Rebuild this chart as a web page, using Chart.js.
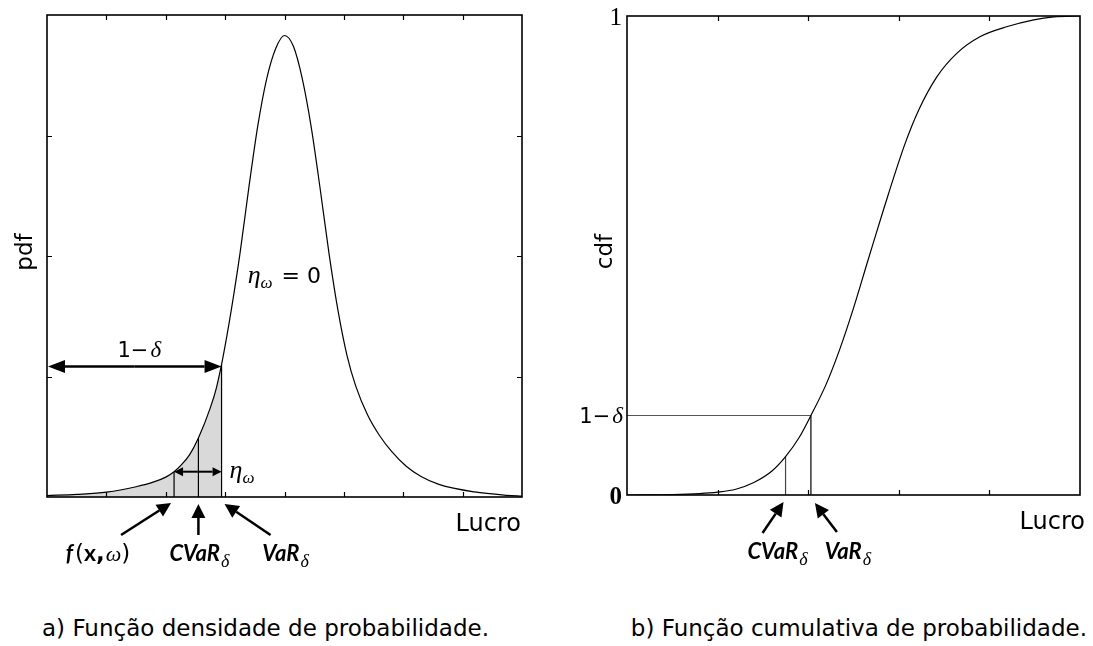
<!DOCTYPE html>
<html>
<head>
<meta charset="utf-8">
<script src="https://cdn.jsdelivr.net/npm/chart.js@4.4.1/dist/chart.umd.min.js"></script>
<style>
    body { margin: 0; background: #fff; width: 1093px; height: 646px; position: relative; overflow: hidden; }
    #graficoPdf { position: absolute; left: 0; top: 0; }
    #graficoCdf { position: absolute; left: 560px; top: 0; }
    .legenda { position: absolute; top: 617px; font-family: "DejaVu Sans"; font-size: 23px; line-height: 23px; color: #000; white-space: nowrap; }
</style>
</head>
<body>
<canvas id="graficoPdf" width="560" height="600"></canvas>
<canvas id="graficoCdf" width="533" height="600"></canvas>
<div class="legenda" style="left: 42px;">a) Função densidade de probabilidade.</div>
<div class="legenda" style="right: 6px;">b) Função cumulativa de probabilidade.</div>
<script>
// Curva da densidade (lucro x pdf)
const pdfX = [0, 0.5, 1.0, 1.5, 1.8, 2.0, 2.14, 2.25, 2.4, 2.55, 2.75, 2.85, 2.94, 3.02, 3.1, 3.25, 3.4, 3.55, 3.7, 3.85, 4.0,
              4.15, 4.3, 4.45, 4.6, 4.75, 4.9, 5.05, 5.2, 5.4, 5.6, 5.8, 6.05, 6.3, 6.6, 7.2, 7.75, 8.0];
const pdfY = [0.012, 0.022, 0.04, 0.085, 0.125, 0.165, 0.21, 0.26, 0.35, 0.49, 0.74, 0.9, 1.10, 1.31, 1.54, 2.02, 2.57, 3.08, 3.47, 3.72, 3.83,
              3.74, 3.47, 3.07, 2.56, 2.02, 1.55, 1.18, 0.92, 0.68, 0.51, 0.38, 0.255, 0.17, 0.105, 0.042, 0.014, 0.007];
const pdfTicksX = [1, 2, 3, 4, 5, 6, 7];
const pdfTicksY = [1, 2, 3];

// Curva cumulativa (lucro x cdf)
const cdfX = [0, 0.5, 0.8, 1.0, 1.2, 1.4, 1.6, 1.75, 1.9, 2.03, 2.2, 2.35, 2.5, 2.66, 2.83, 3.07, 3.22, 3.42, 3.64, 3.9, 4.2, 4.49, 4.71, 5.0];
const cdfY = [0, 0.001, 0.003, 0.006, 0.012, 0.026, 0.05, 0.08, 0.12, 0.166, 0.232, 0.305, 0.39, 0.49, 0.595, 0.734, 0.804, 0.873, 0.922, 0.957, 0.978, 0.992, 0.998, 1.0];
const cdfTicksX = [1, 2, 3, 4];
const cdfValoresY = [0, 0.166, 1];
const cdfRotulosY = ['0', '1−δ', '1'];

// Pontos marcados (VaR, CVaR, f(x,ω))
const varPdf = { x: 2.94, y: 1.10 };
const cvarPdf = { x: 2.55, y: 0.49 };
const fPdf = { x: 2.14, y: 0.21 };
const varCdf = { x: 2.03, y: 0.166 };
const cvarCdf = { x: 1.75, y: 0.08 };

const SERIF = '"Liberation Serif"';
const SANS = '"DejaVu Sans"';
const ITAL = 'italic bold 22px Lato';

function pontos(xs, ys) {
    return xs.map((x, i) => ({ x: x, y: ys[i] }));
}

function linhaVertical(p, cor) {
    return {
        data: [{ x: p.x, y: 0 }, { x: p.x, y: p.y }],
        borderColor: cor, borderWidth: 1.2, pointRadius: 0, fill: false, order: 1
    };
}

// seta com ponta cheia em (x2, y2)
function seta(ctx, x1, y1, x2, y2, comp, larg, esp) {
    const ang = Math.atan2(y2 - y1, x2 - x1);
    const bx = x2 - comp * Math.cos(ang);
    const by = y2 - comp * Math.sin(ang);
    ctx.save();
    ctx.strokeStyle = '#000';
    ctx.fillStyle = '#000';
    ctx.lineWidth = esp;
    ctx.beginPath();
    ctx.moveTo(x1, y1);
    ctx.lineTo(bx, by);
    ctx.stroke();
    ctx.beginPath();
    ctx.moveTo(x2, y2);
    ctx.lineTo(bx + larg * Math.sin(ang), by - larg * Math.cos(ang));
    ctx.lineTo(bx - larg * Math.sin(ang), by + larg * Math.cos(ang));
    ctx.closePath();
    ctx.fill();
    ctx.restore();
}

function setaDupla(ctx, x1, y, x2, comp, larg, esp) {
    const meio = (x1 + x2) / 2;
    seta(ctx, meio, y, x1, y, comp, larg, esp);
    seta(ctx, meio, y, x2, y, comp, larg, esp);
}

// texto com partes em fontes diferentes (letras gregas, subscritos)
function textoMisto(ctx, partes, x, y, alinhar) {
    let largura = 0;
    partes.forEach(p => { ctx.font = p.fonte; largura += ctx.measureText(p.t).width + (p.dx || 0); });
    let cx = x;
    if (alinhar === 'center') cx = x - largura / 2;
    if (alinhar === 'right') cx = x - largura;
    ctx.textAlign = 'left';
    ctx.textBaseline = 'alphabetic';
    ctx.fillStyle = '#000';
    partes.forEach(p => {
        ctx.font = p.fonte;
        cx += (p.dx || 0);
        ctx.fillText(p.t, cx, y + (p.dy || 0));
        cx += ctx.measureText(p.t).width;
    });
}

const umMenosDelta = [{ t: '1−', fonte: '21px ' + SANS }, { t: 'δ', fonte: 'italic 23px ' + SERIF, dx: 2 }];
const etaOmega = [{ t: 'η', fonte: 'italic 26px ' + SERIF }, { t: 'ω', fonte: 'italic 17px ' + SERIF, dy: 5 }];
const rotuloCvar = [{ t: 'CVaR', fonte: ITAL }, { t: 'δ', fonte: 'italic 18px ' + SERIF, dy: 6, dx: 1 }];
const rotuloVar = [{ t: 'VaR', fonte: ITAL }, { t: 'δ', fonte: 'italic 18px ' + SERIF, dy: 6, dx: 1 }];
const rotuloF = [
    { t: 'f', fonte: ITAL }, { t: '(', fonte: '23px ' + SANS, dx: 2 }, { t: 'x', fonte: 'bold 23px Lato' },
    { t: ',', fonte: 'bold 23px ' + SANS }, { t: 'ω', fonte: 'italic 22px ' + SERIF, dx: 1 }, { t: ')', fonte: '23px ' + SANS }
];

// moldura e marcas internas dos eixos
function moldura(chart, ticksX, ticksY) {
    const ctx = chart.ctx;
    const a = chart.chartArea;
    const sx = chart.scales.x, sy = chart.scales.y;
    ctx.save();
    ctx.strokeStyle = '#000';
    ctx.lineWidth = 1.2;
    ctx.beginPath();
    ticksX.forEach(v => {
        const px = Math.round(sx.getPixelForValue(v)) + 0.5;
        ctx.moveTo(px, a.top); ctx.lineTo(px, a.top + 5);
        ctx.moveTo(px, a.bottom); ctx.lineTo(px, a.bottom - 5);
    });
    ticksY.forEach(v => {
        const py = Math.round(sy.getPixelForValue(v)) + 0.5;
        ctx.moveTo(a.left, py); ctx.lineTo(a.left + 5, py);
        ctx.moveTo(a.right, py); ctx.lineTo(a.right - 5, py);
    });
    ctx.stroke();
    ctx.lineWidth = 1.6;
    ctx.strokeRect(a.left, a.top, a.right - a.left, a.bottom - a.top);
    ctx.restore();
}

function rotuloEixo(ctx, texto, x, y) {
    ctx.save();
    ctx.translate(x, y);
    ctx.rotate(-Math.PI / 2);
    ctx.font = '23px ' + SANS;
    ctx.textAlign = 'center';
    ctx.textBaseline = 'middle';
    ctx.fillStyle = '#000';
    ctx.fillText(texto, 0, 0);
    ctx.restore();
}

const extrasPdf = {
    id: 'extrasPdf',
    afterDraw(chart) {
        const ctx = chart.ctx;
        const a = chart.chartArea;
        const sx = chart.scales.x, sy = chart.scales.y;
        moldura(chart, pdfTicksX, pdfTicksY);

        const xVar = sx.getPixelForValue(varPdf.x);
        const xCvar = sx.getPixelForValue(cvarPdf.x);
        const xF = sx.getPixelForValue(fPdf.x);
        const yVar = sy.getPixelForValue(varPdf.y);
        const yF = sy.getPixelForValue(fPdf.y);

        // 1 - delta
        setaDupla(ctx, a.left + 1, yVar + 2, xVar, 17, 6.5, 2.6);
        textoMisto(ctx, umMenosDelta, (a.left + xVar) / 2 + 5, yVar - 7, 'center');

        // eta_omega
        setaDupla(ctx, xF, yF, xVar, 9, 4.5, 2);
        textoMisto(ctx, etaOmega, xVar + 8, yF + 6, 'left');

        // eta_omega = 0
        textoMisto(ctx, etaOmega.concat([{ t: ' = 0', fonte: '22px ' + SANS, dx: 2 }]),
            sx.getPixelForValue(3.38), sy.getPixelForValue(1.78), 'left');

        // setas abaixo do eixo
        seta(ctx, xF - 53, a.bottom + 38, xF - 3, a.bottom + 6, 14, 7, 2.5);
        seta(ctx, xCvar, a.bottom + 38, xCvar, a.bottom + 7, 14, 7, 2.5);
        seta(ctx, xVar + 49, a.bottom + 38, xVar + 3, a.bottom + 7, 14, 7, 2.5);
        textoMisto(ctx, rotuloF, xF - 76, a.bottom + 64, 'center');
        textoMisto(ctx, rotuloCvar, xCvar + 1, a.bottom + 64, 'center');
        textoMisto(ctx, rotuloVar, xVar + 64, a.bottom + 64, 'center');

        ctx.font = '24px ' + SANS;
        ctx.textAlign = 'right';
        ctx.fillText('Lucro', a.right - 1, a.bottom + 34);
        rotuloEixo(ctx, 'pdf', a.left - 21, (a.top + a.bottom) / 2 - 4);
    }
};

const extrasCdf = {
    id: 'extrasCdf',
    afterDraw(chart) {
        const ctx = chart.ctx;
        const a = chart.chartArea;
        const sx = chart.scales.x, sy = chart.scales.y;
        moldura(chart, cdfTicksX, []);

        const xVar = sx.getPixelForValue(varCdf.x);
        const xCvar = sx.getPixelForValue(cvarCdf.x);

        // rotulos do eixo y
        cdfValoresY.forEach((v, i) => {
            const py = sy.getPixelForValue(v);
            if (cdfRotulosY[i] === '1−δ') {
                textoMisto(ctx, umMenosDelta, a.left - 4, py + 8, 'right');
            } else {
                textoMisto(ctx, [{ t: cdfRotulosY[i], fonte: (v === 0 ? 'bold ' : '') + '25px ' + SERIF }], a.left - 5, py + 9, 'right');
            }
        });

        seta(ctx, xCvar - 23, a.bottom + 38, xCvar - 2, a.bottom + 7, 14, 7, 2.5);
        seta(ctx, xVar + 26, a.bottom + 37, xVar + 4, a.bottom + 8, 14, 7, 2.5);
        textoMisto(ctx, rotuloCvar, xCvar - 8, a.bottom + 64, 'center');
        textoMisto(ctx, rotuloVar, xVar + 37, a.bottom + 64, 'center');

        ctx.font = '24px ' + SANS;
        ctx.textAlign = 'right';
        ctx.fillText('Lucro', a.right + 5, a.bottom + 34);
        rotuloEixo(ctx, 'cdf', a.left - 21, (a.top + a.bottom) / 2 - 4);
    }
};

function opcoes(xMax, yMax, padding) {
    return {
        responsive: false,
        animation: false,
        devicePixelRatio: 1,
        layout: { padding: padding },
        plugins: { legend: { display: false }, tooltip: { enabled: false } },
        scales: {
            x: { type: 'linear', min: 0, max: xMax, display: false },
            y: { type: 'linear', min: 0, max: yMax, display: false }
        }
    };
}

// densidade
const dadosPdf = pontos(pdfX, pdfY);
new Chart(document.getElementById('graficoPdf'), {
    type: 'line',
    data: {
        datasets: [
            {
                data: dadosPdf, borderColor: '#000', borderWidth: 1.2, pointRadius: 0,
                cubicInterpolationMode: 'monotone', fill: false, order: 0
            },
            {
                data: dadosPdf.filter(p => p.x <= varPdf.x), borderWidth: 0, pointRadius: 0,
                cubicInterpolationMode: 'monotone', fill: 'origin', backgroundColor: '#d9d9d9', order: 3
            },
            linhaVertical(varPdf, '#000'),
            linhaVertical(cvarPdf, '#000'),
            linhaVertical(fPdf, '#000')
        ]
    },
    options: opcoes(8, 4, { left: 47, top: 15, right: 38, bottom: 103 }),
    plugins: [extrasPdf]
});

// cumulativa
new Chart(document.getElementById('graficoCdf'), {
    type: 'line',
    data: {
        datasets: [
            {
                data: pontos(cdfX, cdfY), borderColor: '#000', borderWidth: 1.2, pointRadius: 0,
                cubicInterpolationMode: 'monotone', fill: false, order: 0
            },
            {
                data: [{ x: 0, y: varCdf.y }, { x: varCdf.x, y: varCdf.y }],
                borderColor: '#555', borderWidth: 1.2, pointRadius: 0, fill: false, order: 1
            },
            linhaVertical(varCdf, '#000'),
            linhaVertical(cvarCdf, '#444')
        ]
    },
    options: opcoes(5, 1, { left: 67, top: 16, right: 13, bottom: 105 }),
    plugins: [extrasCdf]
});
</script>
</body>
</html>
